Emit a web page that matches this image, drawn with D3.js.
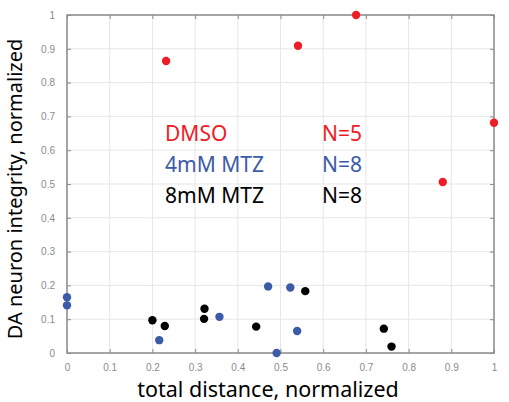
<!DOCTYPE html>
<html>
<head>
<meta charset="utf-8">
<script src="https://cdn.jsdelivr.net/npm/d3@7"></script>
<style>
  body { margin: 0; background: #fff; }
  svg { display: block; }
</style>
</head>
<body>
<svg id="chart" width="509" height="402"></svg>
<script>
// values
const dmsoX = [0.232, 0.541, 0.677, 1.0, 0.880];
const dmsoY = [0.864, 0.909, 1.0, 0.681, 0.506];

const mtz4X = [0.0, 0.0, 0.216, 0.357, 0.471, 0.523, 0.539, 0.491];
const mtz4Y = [0.165, 0.141, 0.038, 0.107, 0.197, 0.194, 0.065, 0.0];

const mtz8X = [0.200, 0.229, 0.322, 0.321, 0.443, 0.558, 0.742, 0.760];
const mtz8Y = [0.097, 0.080, 0.131, 0.101, 0.078, 0.183, 0.072, 0.019];

const groupNames = ["DMSO", "4mM MTZ", "8mM MTZ"];
const groupCounts = ["N=5", "N=8", "N=8"];
const groupColors = ["#ee1c25", "#3b5ba9", "#000000"];

const xTicks = [0, 0.1, 0.2, 0.3, 0.4, 0.5, 0.6, 0.7, 0.8, 0.9, 1];
const yTicks = [0, 0.1, 0.2, 0.3, 0.4, 0.5, 0.6, 0.7, 0.8, 0.9, 1];

const margin = {top: 15, right: 15, bottom: 49, left: 67};
const width = 509 - margin.left - margin.right;
const height = 402 - margin.top - margin.bottom;

const svg = d3.select("#chart");
const g = svg.append("g").attr("transform", `translate(${margin.left},${margin.top})`);

const x = d3.scaleLinear().domain([0, 1]).range([0, width]);
const y = d3.scaleLinear().domain([0, 1]).range([height, 0]);

// grid
g.append("g")
    .selectAll("line")
    .data(xTicks)
    .enter().append("line")
    .attr("x1", d => x(d)).attr("x2", d => x(d))
    .attr("y1", 0).attr("y2", height)
    .attr("stroke", "#e6e6e6");
g.append("g")
    .selectAll("line")
    .data(yTicks)
    .enter().append("line")
    .attr("y1", d => y(d)).attr("y2", d => y(d))
    .attr("x1", 0).attr("x2", width)
    .attr("stroke", "#e6e6e6");

const tickFont = "'Liberation Sans', Arial, sans-serif";

function styleAxis(sel){
    sel.select(".domain").remove();
    sel.selectAll(".tick line").attr("stroke", "#8c8c8c").attr("stroke-width", 1);
    sel.selectAll(".tick text").attr("fill", "#8a8a8a").style("font-family", tickFont).style("font-size", "10px");
}
function noLabels(sel){
    sel.selectAll(".tick text").remove();
}

// axes, ticks pointing inward like matlab
g.append("g")
    .attr("transform", `translate(0,${height})`)
    .call(d3.axisBottom(x).tickValues(xTicks).tickFormat(d3.format("~g")).tickSizeInner(-4).tickSizeOuter(0).tickPadding(11))
    .call(styleAxis);
g.append("g")
    .call(d3.axisLeft(y).tickValues(yTicks).tickFormat(d3.format("~g")).tickSizeInner(-4).tickSizeOuter(0).tickPadding(12))
    .call(styleAxis);
g.append("g")
    .call(d3.axisTop(x).tickValues(xTicks).tickSizeInner(-4).tickSizeOuter(0))
    .call(styleAxis).call(noLabels);
g.append("g")
    .attr("transform", `translate(${width},0)`)
    .call(d3.axisRight(y).tickValues(yTicks).tickSizeInner(-4).tickSizeOuter(0))
    .call(styleAxis).call(noLabels);

// box
g.append("rect")
    .attr("width", width).attr("height", height)
    .attr("fill", "none")
    .attr("stroke", "#8c8c8c")
    .attr("stroke-width", 1.5);

// points
const groups = [
    {xs: dmsoX, ys: dmsoY, color: groupColors[0]},
    {xs: mtz4X, ys: mtz4Y, color: groupColors[1]},
    {xs: mtz8X, ys: mtz8Y, color: groupColors[2]}
];
groups.forEach(grp => {
    g.append("g")
        .selectAll("circle")
        .data(grp.xs.map((v, i) => [v, grp.ys[i]]))
        .enter().append("circle")
        .attr("cx", d => x(d[0]))
        .attr("cy", d => y(d[1]))
        .attr("r", 4.2)
        .attr("fill", grp.color);
});

// legend text
const labelFont = "'Noto Sans', 'Open Sans', sans-serif";
groupNames.forEach((name, i) => {
    svg.append("text")
        .attr("x", 165).attr("y", 141 + i * 31)
        .attr("fill", groupColors[i])
        .style("font-family", labelFont).style("font-size", "21px")
        .text(name);
    svg.append("text")
        .attr("x", 362).attr("y", 141 + i * 31)
        .attr("text-anchor", "end")
        .attr("fill", groupColors[i])
        .style("font-family", labelFont).style("font-size", "21px")
        .text(groupCounts[i]);
});

// axis titles
svg.append("text")
    .attr("x", 268).attr("y", 397)
    .attr("text-anchor", "middle")
    .style("font-family", labelFont).style("font-size", "21.5px")
    .text("total distance, normalized");
svg.append("text")
    .attr("transform", "translate(22,189) rotate(-90)")
    .attr("text-anchor", "middle")
    .style("font-family", labelFont).style("font-size", "20px")
    .text("DA neuron integrity, normalized");
</script>
</body>
</html>
